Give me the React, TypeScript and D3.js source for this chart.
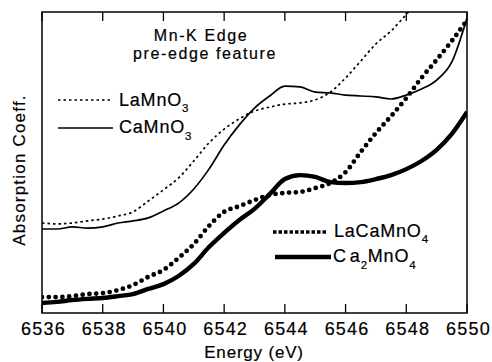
import React from 'react';
import * as d3 from 'd3';

// Energy grid (eV), shared by all four spectra
const energy = [
  6536, 6536.5, 6537, 6537.5, 6538, 6538.5, 6539, 6539.5, 6540, 6540.5,
  6541, 6541.5, 6542, 6542.5, 6543, 6543.5, 6544, 6544.5, 6545, 6545.5,
  6546, 6546.5, 6547, 6547.5, 6548, 6548.5, 6549, 6549.5, 6550,
];

// Absorption (arbitrary units)
const laMnO3 = [
  29.9, 29.6, 29.9, 30.6, 31.2, 32.2, 33.6, 37.2, 40.9, 44.9,
  50.5, 56.5, 61.1, 64.5, 67.1, 68.4, 69.4, 69.8, 70.8, 73.4,
  78.1, 83.7, 89.4, 93.7, 99.2, 104.6, 110, 115, 120,
];
const caMnO3 = [
  27.9, 27.9, 28.6, 28.2, 28.6, 29.9, 30.6, 31.6, 33.9, 36.5,
  41.2, 47.8, 55.8, 62.5, 68.1, 72.1, 75.4, 75.1, 73.4, 73.1,
  72.4, 72.1, 71.8, 71.1, 72.4, 74.4, 77.4, 83.4, 98.0,
];
const laCaMnO4 = [
  5.3, 5.3, 5.6, 6.3, 6.6, 7.6, 9.3, 12.0, 14.3, 18.3,
  22.9, 28.9, 33.6, 35.5, 37.5, 39.2, 39.9, 40.2, 41.5, 43.2,
  46.8, 53.5, 59.8, 65.4, 71.4, 78.1, 84.1, 90.4, 97.3,
];
const ca2MnO4 = [
  3.3, 3.7, 4.3, 4.7, 5.0, 5.6, 6.3, 8.0, 9.6, 12.3,
  16.3, 21.9, 26.6, 30.9, 34.6, 39.5, 44.5, 45.8, 45.2, 43.5,
  43.2, 43.5, 44.5, 45.8, 47.8, 50.5, 54.2, 59.5, 66.8,
];

const xTicks = [6536, 6538, 6540, 6542, 6544, 6546, 6548, 6550];

const W = 492;
const H = 362;
const margin = { top: 12, right: 25, bottom: 49, left: 42 };
const FONT = '"Liberation Sans", Arial, Helvetica, sans-serif';

const App: React.FC = () => {
  const x = d3.scaleLinear().domain([6536, 6550]).range([margin.left, W - margin.right]);
  const y = d3.scaleLinear().domain([0, 100]).range([H - margin.bottom, margin.top]);
  const [x0, x1] = x.range();
  const [yb, yt] = y.range();

  const line = d3.line<number>()
    .x((_, i) => x(energy[i]))
    .y(d => y(d))
    .curve(d3.curveMonotoneX);

  // scanned figure: slightly heavy, wide-set Helvetica
  const txt = {
    fontFamily: FONT, fontSize: 18, letterSpacing: 0.8, fill: '#000',
    stroke: '#000', strokeWidth: 0.2,
  };

  return (
    <svg width={W} height={H} style={{ position: 'absolute', left: 0, top: 0, background: '#fff' }}>
      <defs>
        <clipPath id="plot">
          <rect x={x0} y={yt} width={x1 - x0} height={yb - yt} />
        </clipPath>
      </defs>

      <g clipPath="url(#plot)" fill="none" stroke="#000">
        <path d={line(laMnO3) || ''} strokeWidth={1.7} strokeDasharray="2.5,3" />
        <path d={line(caMnO3) || ''} strokeWidth={1.7} />
        <path d={line(laCaMnO4) || ''} strokeWidth={4.8} strokeDasharray="0,6.8" strokeLinecap="round" />
        <path d={line(ca2MnO4) || ''} strokeWidth={4.4} />
      </g>

      {/* frame */}
      <rect x={x0} y={yt} width={x1 - x0} height={yb - yt} fill="none" stroke="#000" strokeWidth={1.5} />

      {/* ticks, inward at top and bottom */}
      {xTicks.map(t => (
        <g key={t}>
          <line x1={x(t)} x2={x(t)} y1={yb} y2={yb - 9} stroke="#000" strokeWidth={1.3} />
          <line x1={x(t)} x2={x(t)} y1={yt} y2={yt + 9} stroke="#000" strokeWidth={1.3} />
          <text x={x(t) + 1.5} y={335} textAnchor="middle" {...txt} letterSpacing={1.2}>{t}</text>
        </g>
      ))}

      <text x={254} y={358} textAnchor="middle" {...txt} fontSize={17}>Energy (eV)</text>
      <text transform={`translate(25,${170}) rotate(-90)`} textAnchor="middle" {...txt} fontSize={17} letterSpacing={1.2}>Absorption Coeff.</text>

      <text x={201} y={41} textAnchor="middle" {...txt} fontSize={16} letterSpacing={1.6}>Mn-K Edge</text>
      <text x={205} y={59} textAnchor="middle" {...txt} fontSize={16} letterSpacing={1.6}>pre-edge feature</text>

      {/* upper legend */}
      <line x1={58} x2={110} y1={100} y2={100} stroke="#000" strokeWidth={1.7} strokeDasharray="2.5,3" />
      <text x={119} y={106} {...txt}>LaMnO<tspan dy={6} fontSize={11.5}>3</tspan></text>
      <line x1={58} x2={113} y1={128} y2={128} stroke="#000" strokeWidth={1.7} />
      <text x={119} y={133} {...txt}>CaMnO<tspan dy={7} fontSize={11.5}>3</tspan></text>

      {/* lower legend */}
      <line x1={273} x2={326} y1={232} y2={232} stroke="#000" strokeWidth={3.5} strokeDasharray="3.5,2" />
      <text x={334} y={237} {...txt}>LaCaMnO<tspan dy={6} fontSize={11.5}>4</tspan></text>
      <line x1={275} x2={331} y1={257} y2={257} stroke="#000" strokeWidth={4.4} />
      <text x={333} y={262} {...txt}>C<tspan dx={3}>a</tspan><tspan dy={7} fontSize={11.5}>2</tspan><tspan dy={-7}>MnO</tspan><tspan dy={7} fontSize={11.5}>4</tspan></text>
    </svg>
  );
};

export default App;
